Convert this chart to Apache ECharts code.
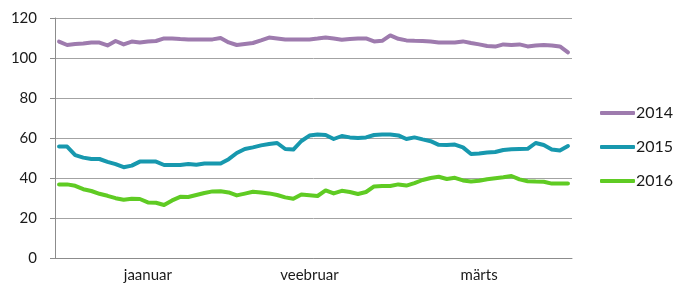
<!DOCTYPE html>
<html>
<head>
<meta charset="utf-8">
<script src="https://cdn.jsdelivr.net/npm/echarts@6/dist/echarts.min.js"></script>
<style>html,body{margin:0;padding:0;background:#fff}#c{width:685px;height:295px}</style>
</head>
<body>
<div id="c"></div>
<script>
var months = ['jaanuar', 'veebruar', 'märts'];
var monthLabelIndex = [11, 31, 52];
var yTicks = [0, 20, 40, 60, 80, 100, 120];
var seriesNames = ['2014', '2015', '2016'];

var s2014 = [108.2,106.5,107,107.2,107.7,107.7,106.3,108.5,106.8,108.2,107.7,108.2,108.5,109.8,109.8,109.5,109.3,109.3,109.3,109.3,110,107.8,106.5,107,107.5,108.8,110.2,109.8,109.3,109.3,109.3,109.3,109.7,110.2,109.7,109.1,109.5,109.8,109.8,108.3,108.6,111.3,109.6,108.8,108.6,108.5,108.2,107.8,107.8,107.8,108.3,107.5,106.8,106,105.7,106.8,106.5,106.8,105.8,106.3,106.5,106.3,105.8,102.8];
var s2015 = [55.7,55.7,51.4,50.2,49.5,49.5,48.1,46.9,45.4,46.2,48.2,48.2,48.2,46.5,46.5,46.5,47,46.6,47.2,47.2,47.2,49.4,52.5,54.5,55.3,56.3,57,57.5,54.5,54.2,58.5,61.2,61.8,61.5,59.5,61,60.3,60,60.3,61.5,61.8,61.8,61.3,59.5,60.3,59.3,58.4,56.6,56.5,56.7,55.3,52,52.3,52.7,53,54,54.4,54.5,54.6,57.5,56.5,54.3,53.8,56];
var s2016 = [36.8,36.8,36.1,34.4,33.5,32.1,31.1,29.9,29.1,29.6,29.5,27.8,27.6,26.5,28.8,30.6,30.5,31.5,32.5,33.3,33.4,32.8,31.3,32.2,33.1,32.7,32.3,31.5,30.3,29.6,31.8,31.4,31,33.8,32.3,33.6,33,32,33,35.8,36,36,36.8,36.2,37.4,39,40,40.6,39.5,40.1,38.8,38.2,38.6,39.4,39.9,40.4,41,39.3,38.4,38.2,38.1,37.2,37.2,37.2];
var colors = ['#9e7bae', '#1798ae', '#5fcb23'];

var categories = s2014.map(function (_, i) { return 'p' + i; });

var chart = echarts.init(document.getElementById('c'), null, {renderer: 'canvas'});
var font = 'Lato, "Open Sans", sans-serif';
var data = [s2014, s2015, s2016];
chart.setOption({
  animation: false,
  grid: {left: 55, right: 113, top: 18, bottom: 37, containLabel: false},
  legend: {
    orient: 'vertical', left: 595, top: 100,
    itemWidth: 35, itemHeight: 4, itemGap: 18,
    icon: 'roundRect',
    textStyle: {fontFamily: font, fontSize: 16, color: '#1a1a1a', padding: [0, 0, 0, -4]},
    data: seriesNames
  },
  xAxis: {
    type: 'category', data: categories, boundaryGap: true,
    axisLine: {show: true, lineStyle: {color: '#8c8c8c', width: 1}},
    axisTick: {show: false},
    axisLabel: {
      interval: function (idx) { return monthLabelIndex.indexOf(idx) >= 0; },
      formatter: function (v, idx) { var k = monthLabelIndex.indexOf(idx); return k >= 0 ? months[k] : ''; },
      fontFamily: font, fontSize: 15, color: '#1a1a1a', margin: 10
    },
    splitLine: {show: false}
  },
  yAxis: {
    type: 'value', min: yTicks[0], max: yTicks[yTicks.length - 1], interval: 20,
    axisLine: {show: true, lineStyle: {color: '#8c8c8c', width: 1}},
    axisTick: {show: true, length: 5, lineStyle: {color: '#8c8c8c'}},
    axisLabel: {fontFamily: font, fontSize: 15, color: '#1a1a1a', margin: 18},
    splitLine: {show: true, lineStyle: {color: '#a3a3a3', width: 1}}
  },
  series: seriesNames.map(function (n, i) {
    return {
      name: n, type: 'line', data: data[i], symbol: 'none', smooth: false,
      color: colors[i],
      lineStyle: {width: 4, color: colors[i], cap: 'round', join: 'round'},
      itemStyle: {color: colors[i]}
    };
  })
});
</script>
</body>
</html>
